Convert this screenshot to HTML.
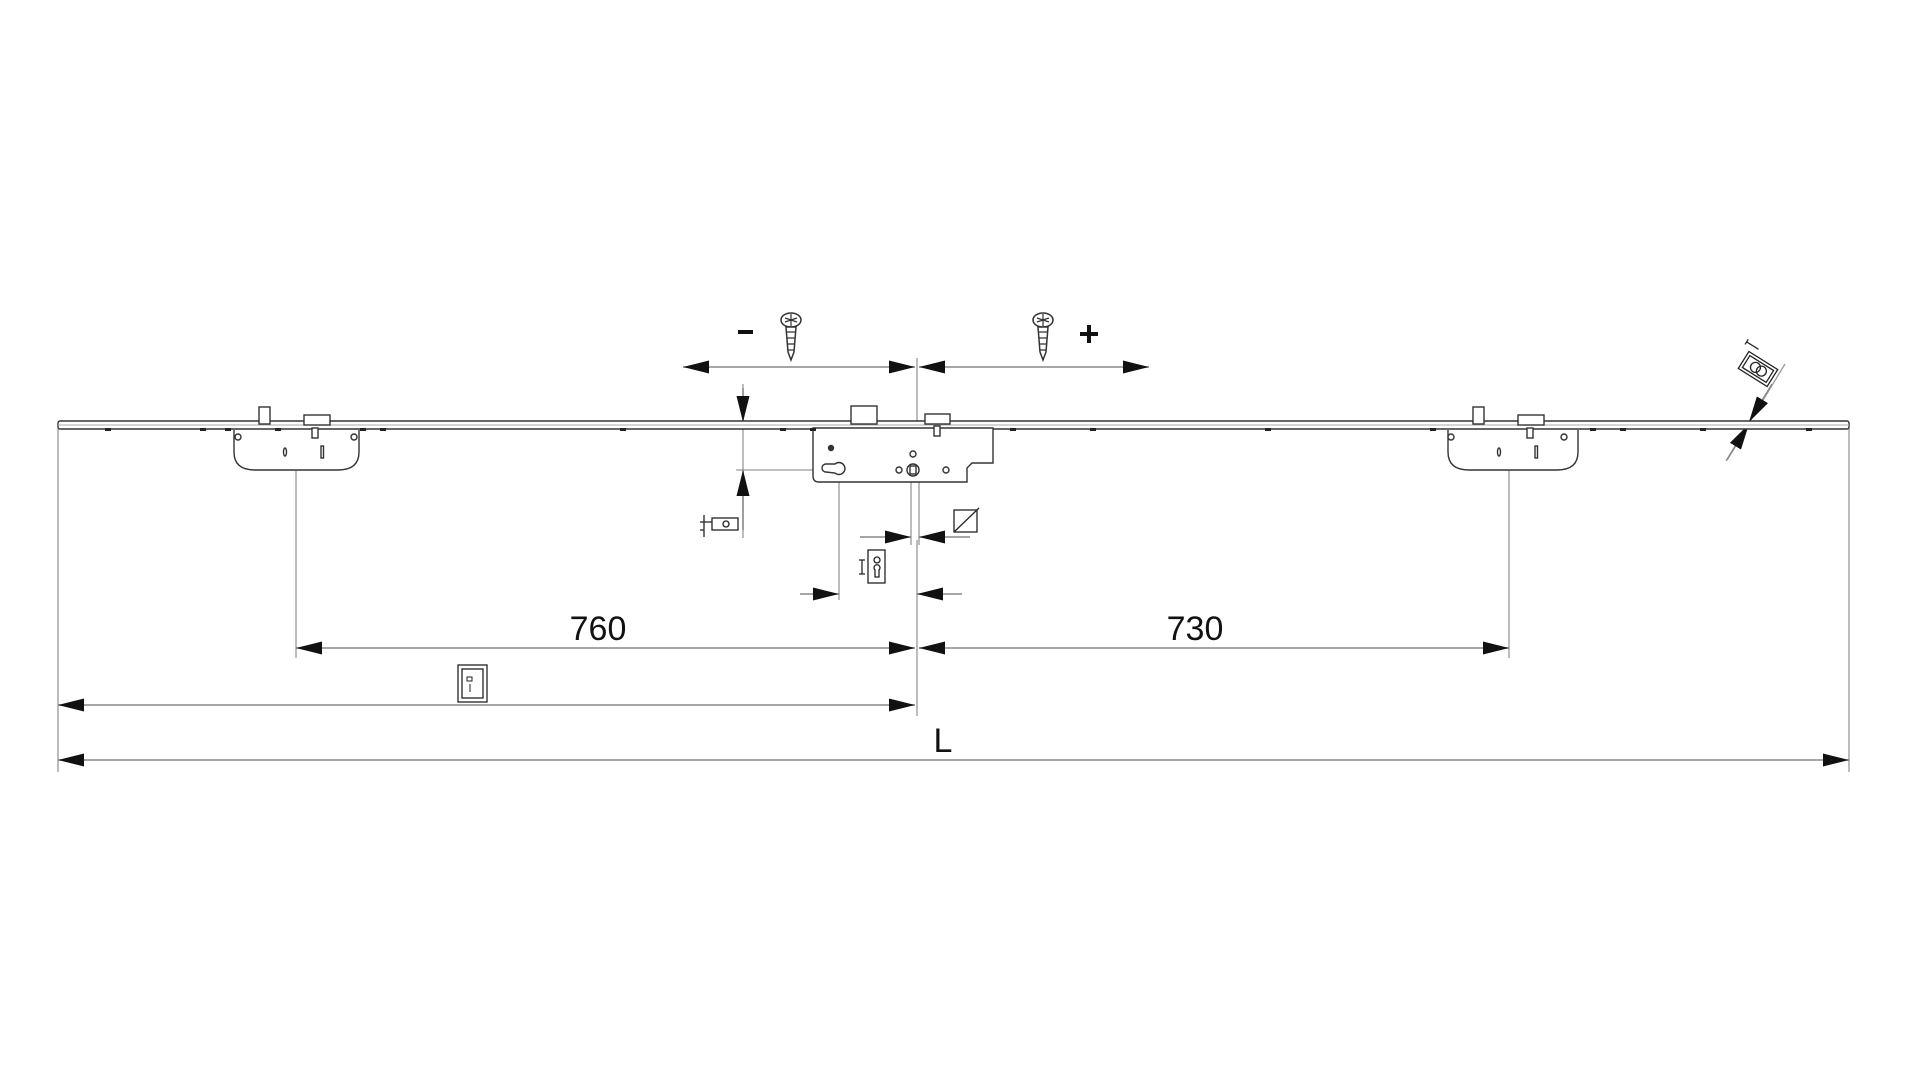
<!DOCTYPE html>
<html><head><meta charset="utf-8"><style>
html,body{margin:0;padding:0;background:#fff;width:1920px;height:1080px;overflow:hidden}
svg{display:block}
text{font-family:"Liberation Sans",sans-serif;fill:#111}
</style></head><body>
<svg width="1920" height="1080" viewBox="0 0 1920 1080" xmlns="http://www.w3.org/2000/svg">
<defs>
<marker id="a" viewBox="0 0 26 13" refX="26" refY="6.5" markerWidth="26" markerHeight="13" markerUnits="userSpaceOnUse" orient="auto-start-reverse"><path d="M0,0 L26,6.5 L0,13 Z" fill="#111"/></marker>
</defs>
<g stroke="#999" stroke-width="1.3" fill="none">
 <line x1="58" y1="428" x2="58" y2="772"/>
 <line x1="1849" y1="428" x2="1849" y2="772"/>
 <line x1="296" y1="470" x2="296" y2="658"/>
 <line x1="1509" y1="470" x2="1509" y2="658"/>
 <line x1="917" y1="358" x2="917" y2="428"/>
 <line x1="917" y1="540" x2="917" y2="716"/>
 <line x1="839" y1="482" x2="839" y2="600"/>
 <line x1="743" y1="384" x2="743" y2="538"/>
 <line x1="736" y1="470" x2="830" y2="470"/>
 <line x1="911" y1="480" x2="911" y2="545"/>
 <line x1="919" y1="480" x2="919" y2="545"/>
 <line x1="1726" y1="461" x2="1785" y2="364"/>
</g>
<g stroke="#888" stroke-width="1.5" fill="none">
 <line x1="683" y1="367" x2="915" y2="367" marker-start="url(#a)" marker-end="url(#a)"/>
 <line x1="919" y1="367" x2="1149" y2="367" marker-start="url(#a)" marker-end="url(#a)"/>
 <line x1="743" y1="388" x2="743" y2="422" marker-end="url(#a)"/>
 <line x1="743" y1="530" x2="743" y2="470" marker-end="url(#a)"/>
 <line x1="860" y1="537" x2="911" y2="537" marker-end="url(#a)"/>
 <line x1="970" y1="537" x2="919" y2="537" marker-end="url(#a)"/>
 <line x1="800" y1="594" x2="839" y2="594" marker-end="url(#a)"/>
 <line x1="962" y1="594" x2="917" y2="594" marker-end="url(#a)"/>
 <line x1="296" y1="648" x2="915" y2="648" marker-start="url(#a)" marker-end="url(#a)"/>
 <line x1="919" y1="648" x2="1509" y2="648" marker-start="url(#a)" marker-end="url(#a)"/>
 <line x1="58" y1="705" x2="915" y2="705" marker-start="url(#a)" marker-end="url(#a)"/>
 <line x1="58" y1="760" x2="1849" y2="760" marker-start="url(#a)" marker-end="url(#a)"/>
 <line x1="1772" y1="384" x2="1749" y2="422" marker-end="url(#a)"/>
 <line x1="1727" y1="460" x2="1749" y2="424" marker-end="url(#a)"/>
</g>
<g stroke="#333" stroke-width="1.4" fill="#fff">
 <rect x="58" y="421" width="1791" height="8" rx="2"/>
 <line x1="58" y1="425" x2="1849" y2="425" stroke="#aaa" stroke-width="1"/>
 <path d="M234 430 L234 452 Q234 470 255 470 L338 470 Q359 470 359 452 L359 430"/>
 <rect x="259" y="407" width="11" height="17"/>
 <rect x="304" y="415" width="26" height="10"/>
 <rect x="312" y="428" width="6" height="10"/>
 <circle cx="238" cy="437" r="3"/><circle cx="354" cy="437" r="3"/>
 <ellipse cx="285" cy="452" rx="1.5" ry="4"/><rect x="321" y="446" width="2.5" height="12"/>
 <path d="M1448 430 L1448 452 Q1448 470 1469 470 L1557 470 Q1578 470 1578 452 L1578 430"/>
 <rect x="1473" y="407" width="11" height="17"/>
 <rect x="1518" y="415" width="26" height="10"/>
 <rect x="1527" y="428" width="6" height="10"/>
 <circle cx="1451" cy="437" r="3"/><circle cx="1564" cy="437" r="3"/>
 <ellipse cx="1499" cy="452" rx="1.5" ry="4"/><rect x="1535" y="446" width="2.5" height="12"/>
 <path d="M813 428 L813 476 Q813 482 819 482 L967 482 L967 468 L972 463 L993 463 L993 428 Z"/>
 <rect x="851" y="406" width="26" height="18"/>
 <rect x="925" y="414" width="25" height="10"/>
 <rect x="934" y="426" width="6" height="10"/>
 <path d="M822 468 a4 4 0 0 1 4-4 L835 464 a6 6 0 1 1 0 9 L826 472 a4 4 0 0 1 -4-4z"/>
 <circle cx="913" cy="470" r="6"/><rect x="910" y="466" width="6" height="8"/>
 <circle cx="899" cy="470" r="3"/><circle cx="946" cy="470" r="3"/><circle cx="913" cy="454" r="3"/><circle cx="831" cy="448" r="2.5" fill="#333"/>
</g>
<g fill="#222">
 <rect x="105" y="428" width="6" height="3"/><rect x="200" y="428" width="6" height="3"/><rect x="225" y="428" width="6" height="3"/><rect x="275" y="428" width="6" height="3"/><rect x="360" y="428" width="6" height="3"/><rect x="380" y="428" width="6" height="3"/>
 <rect x="620" y="428" width="6" height="3"/><rect x="780" y="428" width="6" height="3"/><rect x="810" y="428" width="6" height="3"/><rect x="1010" y="428" width="6" height="3"/><rect x="1090" y="428" width="6" height="3"/><rect x="1265" y="428" width="6" height="3"/><rect x="1430" y="428" width="6" height="3"/><rect x="1590" y="428" width="6" height="3"/><rect x="1620" y="428" width="6" height="3"/><rect x="1700" y="428" width="6" height="3"/><rect x="1806" y="428" width="6" height="3"/>
</g>
<g stroke="#333" stroke-width="1.5" fill="#fff">
 <ellipse cx="791" cy="320" rx="10" ry="7"/><path d="M786 327 L796 327 L794 352 L791 360 L788 352 Z"/>
 <ellipse cx="1043" cy="320" rx="10" ry="7"/><path d="M1038 327 L1048 327 L1046 352 L1043 360 L1040 352 Z"/>
</g>
<g stroke="#333" stroke-width="1.2" fill="none">
 <path d="M785 318 l12 4 M785 322 l12 -4 M791 314 v12"/><path d="M1037 318 l12 4 M1037 322 l12 -4 M1043 314 v12"/>
 <path d="M787 332 h8 M787 338 h8 M787 344 h8 M788 350 h6"/><path d="M1039 332 h8 M1039 338 h8 M1039 344 h8 M1040 350 h6"/>
</g>
<rect x="738" y="330" width="15" height="4" fill="#111"/>
<path d="M1080 334 h18 M1089 325 v18" stroke="#111" stroke-width="4"/>
<g stroke="#222" stroke-width="1.3" fill="#fff">
 <rect x="712" y="518" width="26" height="12"/><circle cx="726" cy="524" r="3"/>
 <path d="M704 515 v22 M700 522 h12 M700 530 h4" fill="none"/>
 <rect x="954" y="510" width="23" height="22"/><line x1="954" y1="532" x2="979" y2="508"/>
 <rect x="868" y="550" width="17" height="33"/><circle cx="877" cy="560" r="3"/><path d="M875 570 a3 3 0 1 1 4 0 v7 h-4z"/>
 <path d="M862 560 v14 M859 560 h6 M859 574 h6" fill="none"/>
 <rect x="458" y="665" width="29" height="37"/><rect x="462" y="669" width="21" height="29" fill="none"/>
 <path d="M467 677 h5 v4 h-5z M470 684 v8" fill="none" stroke-width="1"/>
 <g transform="translate(1758 369) rotate(32)">
  <rect x="-17" y="-10" width="34" height="20"/><rect x="-14" y="-7" width="28" height="14"/>
  <circle cx="-3" cy="0" r="5" fill="none"/><circle cx="4" cy="0" r="5" fill="none"/>
  <path d="M-24 -14 v-6 M-24 -17 h14" fill="none"/>
 </g>
</g>
<text x="598" y="640" font-size="34" text-anchor="middle">760</text>
<text x="1195" y="640" font-size="34" text-anchor="middle">730</text>
<text x="943" y="752" font-size="34" text-anchor="middle">L</text>
</svg>
</body></html>
